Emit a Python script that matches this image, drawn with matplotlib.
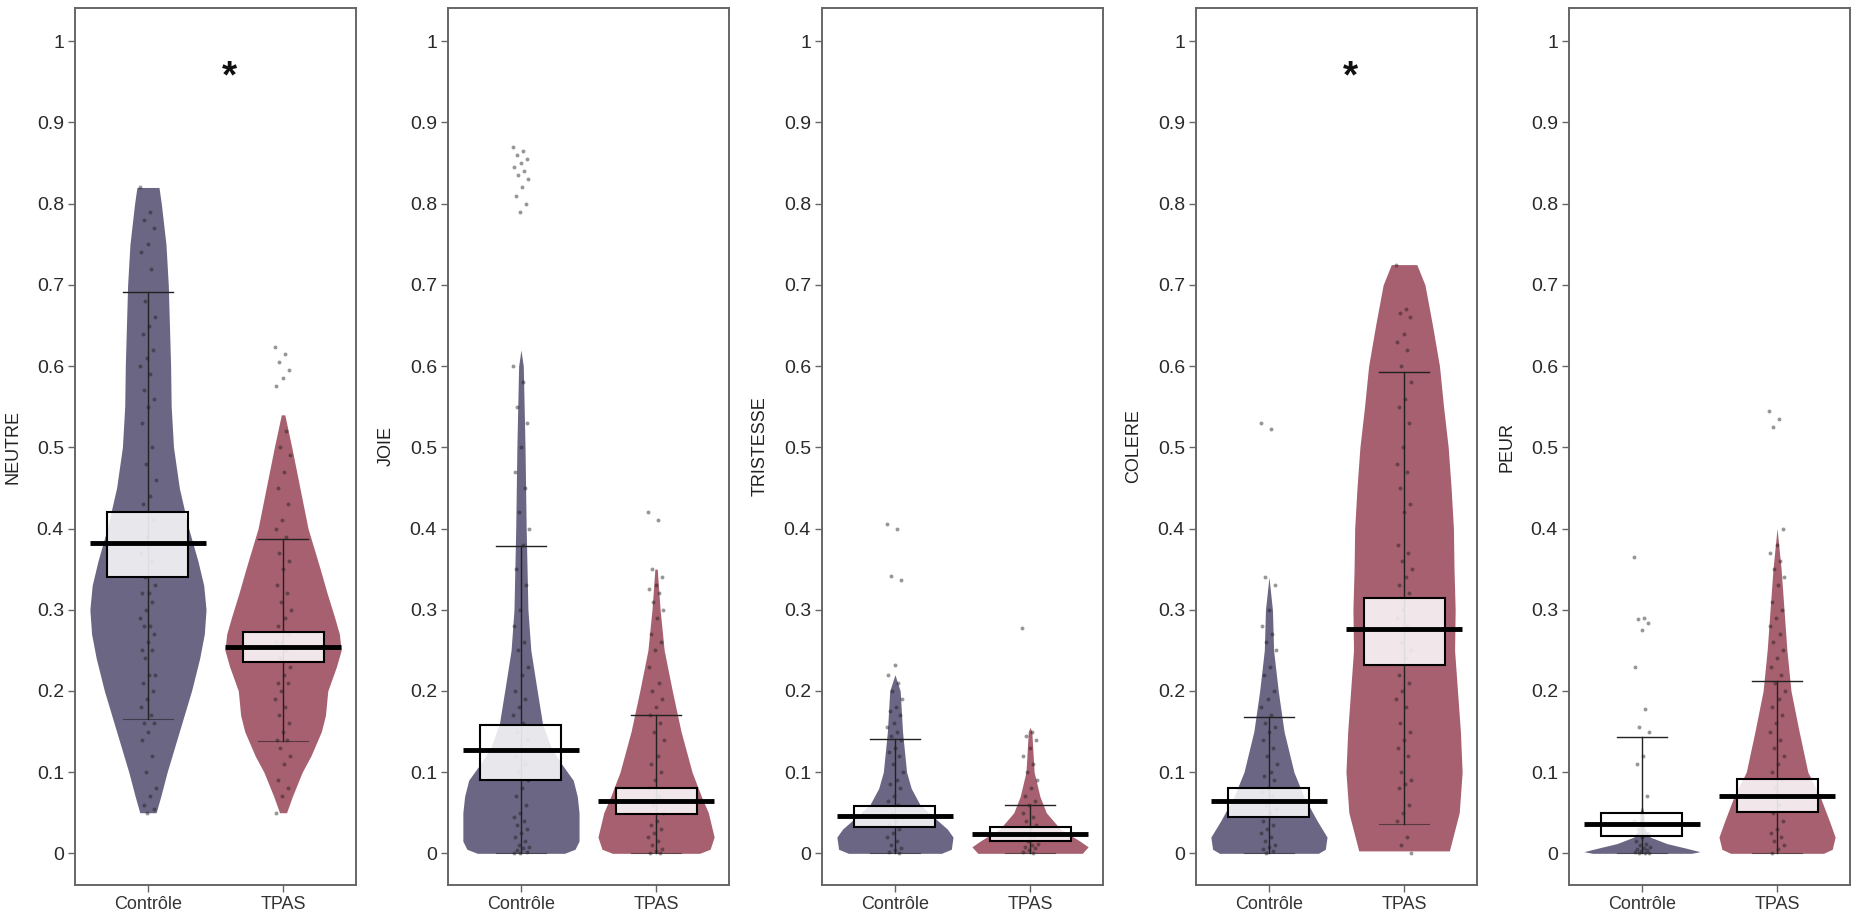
import numpy as np
from matplotlib import pyplot as plt

plt.rcParams['font.family'] = ['Liberation Sans', 'DejaVu Sans']

# Categories
emotions = ['NEUTRE', 'JOIE', 'TRISTESSE', 'COLERE', 'PEUR']
groups = ['Contrôle', 'TPAS']
signif = [True, False, False, True, False]

# Means, inference boxes and whisker ends, per emotion
mean_ctrl = [0.382, 0.127, 0.046, 0.064, 0.036]
mean_tpas = [0.254, 0.065, 0.024, 0.276, 0.071]
box_lo_ctrl = [0.340, 0.090, 0.032, 0.045, 0.021]
box_hi_ctrl = [0.420, 0.158, 0.058, 0.081, 0.050]
box_lo_tpas = [0.236, 0.049, 0.015, 0.232, 0.051]
box_hi_tpas = [0.272, 0.081, 0.032, 0.314, 0.092]
whisk_lo_ctrl = [0.165, 0.0, 0.0, 0.0, 0.0]
whisk_hi_ctrl = [0.691, 0.378, 0.141, 0.168, 0.143]
whisk_lo_tpas = [0.138, 0.0, 0.0, 0.036, 0.0]
whisk_hi_tpas = [0.387, 0.170, 0.060, 0.593, 0.212]

# Bean outlines: (value, relative half width)
neutre_ctrl_bean = [(0.05, 0.14), (0.07, 0.22), (0.10, 0.33), (0.15, 0.54), (0.20, 0.75),
                    (0.24, 0.89), (0.27, 0.97), (0.30, 1.00), (0.33, 0.96), (0.36, 0.86),
                    (0.40, 0.70), (0.45, 0.54), (0.50, 0.44), (0.55, 0.40), (0.60, 0.39),
                    (0.65, 0.37), (0.70, 0.35), (0.75, 0.31), (0.80, 0.23), (0.82, 0.19)]
neutre_tpas_bean = [(0.05, 0.06), (0.07, 0.16), (0.10, 0.33), (0.12, 0.48), (0.15, 0.66),
                    (0.17, 0.73), (0.20, 0.77), (0.23, 0.92), (0.25, 1.00), (0.27, 0.97),
                    (0.29, 0.89), (0.32, 0.76), (0.35, 0.64), (0.40, 0.43), (0.45, 0.29),
                    (0.50, 0.15), (0.54, 0.03)]
joie_ctrl_bean = [(0.0, 0.75), (0.005, 0.93), (0.015, 1.0), (0.05, 1.0), (0.07, 0.97),
                  (0.09, 0.90), (0.11, 0.70), (0.13, 0.52), (0.16, 0.37), (0.20, 0.28),
                  (0.25, 0.17), (0.30, 0.12), (0.40, 0.09), (0.50, 0.07), (0.60, 0.04),
                  (0.62, 0.0)]
joie_tpas_bean = [(0.0, 0.75), (0.005, 0.93), (0.02, 1.0), (0.05, 0.90), (0.07, 0.78),
                  (0.10, 0.62), (0.15, 0.43), (0.20, 0.28), (0.25, 0.14), (0.30, 0.07),
                  (0.35, 0.02)]
tristesse_ctrl_bean = [(0.0, 0.80), (0.005, 0.97), (0.02, 1.0), (0.03, 0.90), (0.04, 0.74),
                       (0.06, 0.43), (0.08, 0.28), (0.10, 0.20), (0.15, 0.13), (0.20, 0.09),
                       (0.22, 0.0)]
tristesse_tpas_bean = [(0.0, 0.90), (0.008, 1.0), (0.015, 0.86), (0.03, 0.52), (0.05, 0.28),
                       (0.07, 0.17), (0.10, 0.07), (0.15, 0.03), (0.155, 0.0)]
colere_ctrl_bean = [(0.0, 0.85), (0.005, 0.97), (0.02, 1.0), (0.04, 0.83), (0.07, 0.60),
                    (0.10, 0.43), (0.15, 0.26), (0.20, 0.16), (0.25, 0.08), (0.30, 0.06),
                    (0.34, 0.0)]
colere_tpas_bean = [(0.003, 0.78), (0.05, 0.95), (0.10, 1.0), (0.15, 0.97), (0.20, 0.92),
                    (0.25, 0.87), (0.30, 0.88), (0.35, 0.86), (0.40, 0.85), (0.45, 0.81),
                    (0.50, 0.76), (0.55, 0.68), (0.60, 0.61), (0.65, 0.49), (0.70, 0.36),
                    (0.725, 0.22)]
peur_ctrl_bean = [(0.0, 0.85), (0.002, 1.0), (0.006, 0.78), (0.012, 0.43), (0.02, 0.14),
                  (0.03, 0.05), (0.05, 0.03), (0.06, 0.0)]
peur_tpas_bean = [(0.0, 0.80), (0.005, 0.95), (0.02, 1.0), (0.04, 0.90), (0.07, 0.74),
                  (0.10, 0.53), (0.15, 0.38), (0.20, 0.24), (0.25, 0.17), (0.30, 0.12),
                  (0.35, 0.07), (0.40, 0.0)]

neutre_ctrl_pts = [0.82, 0.79, 0.78, 0.77, 0.75, 0.74, 0.72, 0.68, 0.66, 0.65, 0.64, 0.62,
                   0.61, 0.60, 0.59, 0.57, 0.56, 0.55, 0.53, 0.50, 0.48, 0.46, 0.44, 0.43,
                   0.41, 0.39, 0.37, 0.36, 0.34, 0.33, 0.32, 0.32, 0.31, 0.30, 0.29, 0.28,
                   0.28, 0.27, 0.26, 0.25, 0.25, 0.24, 0.22, 0.22, 0.21, 0.20, 0.19, 0.18,
                   0.17, 0.16, 0.16, 0.15, 0.14, 0.12, 0.10, 0.08, 0.07, 0.06, 0.055, 0.05]
neutre_tpas_pts = [0.624, 0.615, 0.605, 0.595, 0.585, 0.575, 0.52, 0.50, 0.49, 0.47, 0.45,
                   0.43, 0.41, 0.40, 0.39, 0.37, 0.36, 0.35, 0.33, 0.32, 0.31, 0.30, 0.29,
                   0.28, 0.27, 0.26, 0.26, 0.25, 0.24, 0.23, 0.22, 0.21, 0.21, 0.20, 0.19,
                   0.18, 0.17, 0.16, 0.15, 0.14, 0.14, 0.13, 0.12, 0.11, 0.09, 0.08, 0.07,
                   0.05]
joie_ctrl_pts = [0.87, 0.865, 0.86, 0.855, 0.85, 0.845, 0.84, 0.835, 0.83, 0.82, 0.81, 0.80,
                 0.79, 0.60, 0.58, 0.55, 0.53, 0.50, 0.47, 0.45, 0.42, 0.40, 0.38, 0.35,
                 0.33, 0.30, 0.28, 0.26, 0.25, 0.23, 0.22, 0.20, 0.19, 0.18, 0.17, 0.16,
                 0.15, 0.14, 0.13, 0.12, 0.11, 0.10, 0.09, 0.08, 0.07, 0.06, 0.05, 0.045,
                 0.04, 0.035, 0.03, 0.025, 0.02, 0.015, 0.01, 0.008, 0.006, 0.004, 0.002,
                 0.001, 0.0]
joie_tpas_pts = [0.42, 0.41, 0.35, 0.34, 0.33, 0.325, 0.32, 0.31, 0.30, 0.29, 0.27, 0.26,
                 0.25, 0.23, 0.21, 0.20, 0.19, 0.18, 0.17, 0.16, 0.15, 0.14, 0.12, 0.11,
                 0.10, 0.09, 0.08, 0.07, 0.06, 0.05, 0.04, 0.035, 0.03, 0.025, 0.02, 0.015,
                 0.01, 0.005, 0.003, 0.001, 0.0]
tristesse_ctrl_pts = [0.406, 0.40, 0.342, 0.336, 0.232, 0.22, 0.21, 0.20, 0.19, 0.18, 0.175,
                      0.17, 0.16, 0.155, 0.15, 0.145, 0.14, 0.13, 0.125, 0.12, 0.11, 0.10,
                      0.09, 0.085, 0.08, 0.07, 0.065, 0.06, 0.05, 0.045, 0.04, 0.035, 0.03,
                      0.025, 0.02, 0.015, 0.01, 0.007, 0.004, 0.002, 0.0]
tristesse_tpas_pts = [0.277, 0.15, 0.145, 0.14, 0.13, 0.12, 0.11, 0.10, 0.09, 0.08, 0.07,
                      0.065, 0.06, 0.05, 0.045, 0.04, 0.035, 0.03, 0.025, 0.02, 0.015, 0.012,
                      0.01, 0.008, 0.006, 0.004, 0.002, 0.0]
colere_ctrl_pts = [0.53, 0.522, 0.34, 0.33, 0.30, 0.28, 0.27, 0.26, 0.25, 0.23, 0.22, 0.20,
                   0.19, 0.18, 0.17, 0.16, 0.155, 0.15, 0.14, 0.13, 0.12, 0.11, 0.10, 0.095,
                   0.09, 0.08, 0.075, 0.07, 0.06, 0.055, 0.05, 0.04, 0.035, 0.03, 0.025,
                   0.02, 0.015, 0.01, 0.008, 0.005, 0.003, 0.0]
colere_tpas_pts = [0.725, 0.67, 0.665, 0.66, 0.64, 0.63, 0.62, 0.60, 0.58, 0.56, 0.55, 0.53,
                   0.50, 0.48, 0.47, 0.45, 0.43, 0.42, 0.38, 0.37, 0.36, 0.35, 0.34, 0.33,
                   0.32, 0.30, 0.29, 0.28, 0.26, 0.25, 0.24, 0.22, 0.21, 0.20, 0.19, 0.18,
                   0.16, 0.15, 0.14, 0.13, 0.12, 0.10, 0.09, 0.085, 0.08, 0.06, 0.05, 0.04,
                   0.02, 0.01, 0.0]
peur_ctrl_pts = [0.365, 0.29, 0.288, 0.284, 0.275, 0.23, 0.178, 0.155, 0.15, 0.12, 0.11,
                 0.07, 0.05, 0.04, 0.035, 0.03, 0.025, 0.02, 0.015, 0.012, 0.01, 0.008,
                 0.006, 0.005, 0.004, 0.003, 0.002, 0.001, 0.0, 0.0]
peur_tpas_pts = [0.545, 0.535, 0.525, 0.40, 0.38, 0.37, 0.36, 0.35, 0.34, 0.33, 0.31, 0.30,
                 0.29, 0.28, 0.27, 0.26, 0.25, 0.24, 0.23, 0.22, 0.21, 0.20, 0.19, 0.18,
                 0.17, 0.16, 0.15, 0.14, 0.13, 0.12, 0.11, 0.10, 0.09, 0.08, 0.07, 0.06,
                 0.05, 0.04, 0.03, 0.025, 0.02, 0.015, 0.01, 0.005, 0.0]

beans_ctrl = [neutre_ctrl_bean, joie_ctrl_bean, tristesse_ctrl_bean, colere_ctrl_bean, peur_ctrl_bean]
beans_tpas = [neutre_tpas_bean, joie_tpas_bean, tristesse_tpas_bean, colere_tpas_bean, peur_tpas_bean]
pts_ctrl = [neutre_ctrl_pts, joie_ctrl_pts, tristesse_ctrl_pts, colere_ctrl_pts, peur_ctrl_pts]
pts_tpas = [neutre_tpas_pts, joie_tpas_pts, tristesse_tpas_pts, colere_tpas_pts, peur_tpas_pts]

col_ctrl = '#6a6684'
col_tpas = '#a7606f'
VW = 0.43     # bean max half width
BW = 0.30     # box half width
MW = 0.43     # mean line half width
WW = 0.185    # whisker half width
JIT = 0.06


def draw_group(ax, x, bean, pts, mean, blo, bhi, wlo, whi, color):
    ys = np.array([b[0] for b in bean])
    ws = np.array([b[1] for b in bean]) * VW
    ax.fill_betweenx(ys, x - ws, x + ws, color=color, lw=0, zorder=1)
    pts = np.asarray(pts)
    offs = ((np.arange(len(pts)) * 0.618034) % 1.0 - 0.5) * 2 * JIT
    ax.scatter(x + offs, pts, s=8, c='#1a1a1a', alpha=0.45, lw=0, zorder=2)
    # whiskers
    ax.plot([x, x], [wlo, whi], color='#222222', lw=1.0, zorder=3)
    ax.plot([x - WW, x + WW], [whi, whi], color='#222222', lw=1.0, zorder=3)
    ax.plot([x - WW, x + WW], [wlo, wlo], color='#222222', lw=0.8, alpha=0.6, zorder=3)
    # inference box
    ax.add_patch(plt.Rectangle((x - BW, blo), 2 * BW, bhi - blo, facecolor='white',
                               alpha=0.85, lw=0, zorder=4))
    ax.add_patch(plt.Rectangle((x - BW, blo), 2 * BW, bhi - blo, fill=False,
                               edgecolor='black', lw=1.5, zorder=4))
    # mean line
    ax.plot([x - MW, x + MW], [mean, mean], color='black', lw=3.5,
            solid_capstyle='butt', zorder=5)


fig = plt.figure(figsize=(18.56, 9.23), dpi=100)
lefts = [75, 448, 822, 1196, 1569]

for i, emo in enumerate(emotions):
    ax = fig.add_axes([lefts[i] / 1856, 38 / 923, 281 / 1856, 877 / 923])
    draw_group(ax, 1, beans_ctrl[i], pts_ctrl[i], mean_ctrl[i], box_lo_ctrl[i],
               box_hi_ctrl[i], whisk_lo_ctrl[i], whisk_hi_ctrl[i], col_ctrl)
    draw_group(ax, 2, beans_tpas[i], pts_tpas[i], mean_tpas[i], box_lo_tpas[i],
               box_hi_tpas[i], whisk_lo_tpas[i], whisk_hi_tpas[i], col_tpas)
    if signif[i]:
        ax.text(1.6, 0.955, '*', fontsize=28, fontweight='bold', ha='center',
                va='center', color='#111111')
    ax.set_xlim(0.46, 2.54)
    ax.set_ylim(-0.039, 1.041)
    ax.set_xticks([1, 2])
    ax.set_xticklabels(groups, fontsize=13, color='#333333')
    yt = np.round(np.arange(0, 1.01, 0.1), 1)
    ax.set_yticks(yt)
    ax.set_yticklabels(['0' if v == 0 else ('1' if v == 1 else f'{v:g}') for v in yt],
                       fontsize=14, color='#2a2a2a')
    ax.tick_params(length=5, width=1, color='#666666', pad=3)
    ax.set_ylabel(emo, fontsize=13, color='#222222')
    ax.yaxis.set_label_coords(-0.19, 0.5)
    for sp in ax.spines.values():
        sp.set_color('#666666')
        sp.set_linewidth(1.4)

plt.savefig('out.png', dpi=100)
